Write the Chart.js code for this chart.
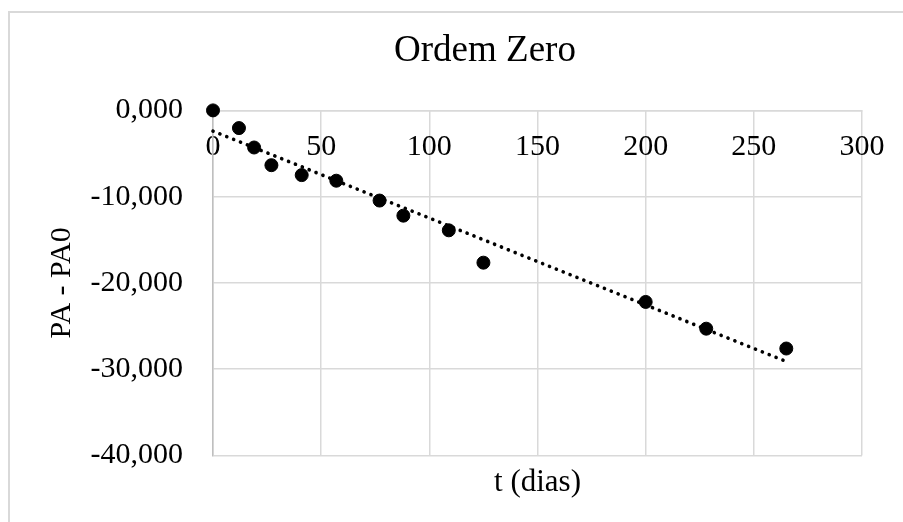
<!DOCTYPE html>
<html>
<head>
<meta charset="utf-8">
<script src="https://cdn.jsdelivr.net/npm/chart.js@4.4.1/dist/chart.umd.min.js"></script>
<style>
  html, body { margin: 0; padding: 0; background: #fff; overflow: hidden; }
  #wrap { position: relative; width: 903px; height: 522px; overflow: hidden; }
  #frame { position: absolute; left: 8px; top: 11px; width: 1000px; height: 600px; border: 2px solid #d9d9d9; }
  #c { position: absolute; left: 0; top: 0; }
</style>
</head>
<body>
<div id="wrap">
  <div id="frame"></div>
  <canvas id="c" width="970" height="522"></canvas>
</div>
<script>
// t (dias) and PA - PA0
const tDias = [0, 12, 19, 27, 41, 57, 77, 88, 109, 125, 200, 228, 265];
const paDiff = [0, -2.05, -4.3, -6.35, -7.5, -8.15, -10.45, -12.2, -13.9, -17.65, -22.2, -25.3, -27.6];

// dotted linear trend line, end points
const trendT = [0, 265];
const trendY = [-2.4, -29.1];

const xTicks = [0, 50, 100, 150, 200, 250, 300];
const yTicks = [0, -10, -20, -30, -40];

const FONT = '"Liberation Serif", "Times New Roman", serif';

function toPoints(xs, ys) {
    let pts = [];
    for (let i = 0; i < xs.length; i++) pts.push({ x: xs[i], y: ys[i] });
    return pts;
}

const ctx = document.getElementById('c').getContext('2d');

new Chart(ctx, {
    type: 'scatter',
    data: {
        datasets: [
            {
                label: 'PA - PA0',
                data: toPoints(tDias, paDiff),
                xAxisID: 'x',
                yAxisID: 'y',
                backgroundColor: '#000',
                borderColor: '#000',
                borderWidth: 1,
                pointRadius: 6.5,
                clip: false
            },
            {
                label: 'Linear',
                data: toPoints(trendT, trendY),
                xAxisID: 'x',
                yAxisID: 'y',
                showLine: true,
                borderColor: '#000',
                borderWidth: 3.6,
                borderDash: [0.1, 7.3],
                borderCapStyle: 'round',
                pointRadius: 0,
                fill: false,
                clip: false
            }
        ]
    },
    options: {
        responsive: false,
        animation: false,
        devicePixelRatio: 1,
        layout: { padding: 0 },
        plugins: {
            legend: { display: false },
            tooltip: { enabled: false },
            title: {
                display: true,
                text: 'Ordem Zero',
                color: '#000',
                font: { family: FONT, size: 37, weight: 'normal' },
                padding: { top: 29, bottom: 37 }
            }
        },
        scales: {
            x: {
                type: 'linear',
                position: { y: 0 },
                min: 0,
                max: 300,
                afterBuildTicks: (s) => { s.ticks = xTicks.map(v => ({ value: v })); },
                ticks: {
                    color: '#000',
                    padding: 19,
                    font: { family: FONT, size: 30 }
                },
                grid: { color: '#d9d9d9', lineWidth: 1.5, drawTicks: false },
                border: { color: '#d9d9d9', width: 1.5 }
            },
            y: {
                type: 'linear',
                position: 'left',
                min: -40,
                max: 0,
                afterBuildTicks: (s) => { s.ticks = yTicks.map(v => ({ value: v })); },
                afterFit: (s) => { s.width = 213; },
                ticks: {
                    color: '#000',
                    padding: 30,
                    font: { family: FONT, size: 30 },
                    callback: (v) => v.toFixed(3).replace('.', ',')
                },
                grid: { color: '#d9d9d9', lineWidth: 1.5, drawTicks: false },
                border: { color: '#bfbfbf', width: 1.5 },
                title: {
                    display: true,
                    text: 'PA - PA0',
                    color: '#000',
                    font: { family: FONT, size: 30 },
                    padding: { top: 44, bottom: 0 }
                }
            },
            xb: {
                type: 'linear',
                position: 'bottom',
                afterFit: (s) => { s.height = 66.5; },
                ticks: { display: false },
                grid: { display: false },
                border: { display: false },
                title: {
                    display: true,
                    text: 't (dias)',
                    color: '#000',
                    font: { family: FONT, size: 31 },
                    padding: { top: 0, bottom: 21 }
                }
            },
            yr: {
                type: 'linear',
                position: 'right',
                afterFit: (s) => { s.width = 970 - 862; },
                ticks: { display: false },
                grid: { display: false },
                border: { display: false }
            }
        }
    }
});
</script>
</body>
</html>
